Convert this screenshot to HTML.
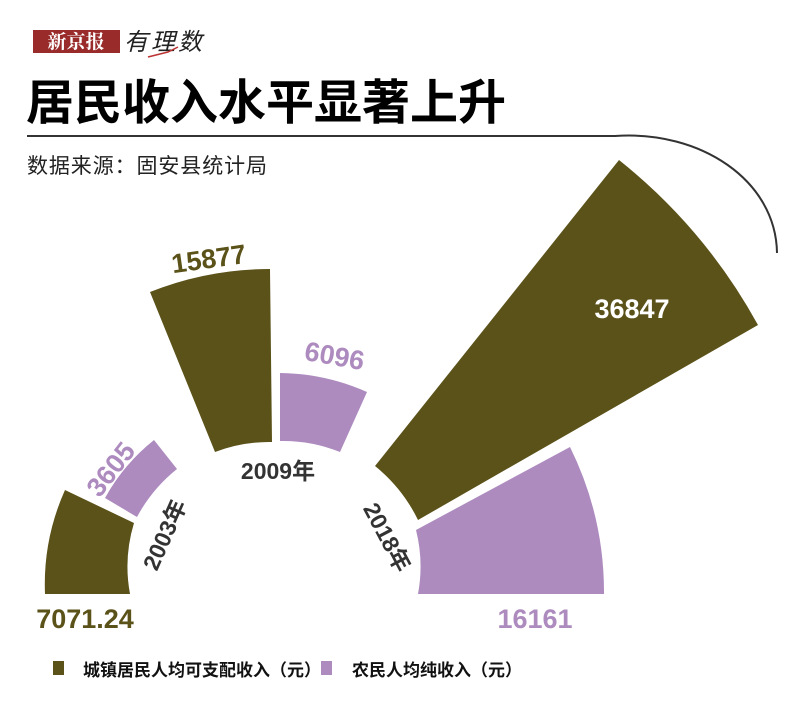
<!DOCTYPE html>
<html><head><meta charset="utf-8"><style>
html,body{margin:0;padding:0;background:#fff;width:800px;height:708px;overflow:hidden}
svg{display:block}
text{font-family:"Liberation Sans","Noto Sans CJK SC",sans-serif}
</style></head><body>
<svg width="800" height="708" viewBox="0 0 800 708">
<rect x="33" y="30" width="87" height="23" fill="#9a2b2b"/>
<text x="76" y="48" fill="#fff" font-size="19" font-weight="bold" text-anchor="middle" style="font-family:'Noto Serif CJK SC',serif">新京报</text>
<text x="124" y="50" fill="#222" font-size="24" font-style="italic" textLength="78" style="font-family:'Noto Sans CJK SC',sans-serif">有理数</text>
<path d="M148,57 L168,52 L178,47" stroke="#b33" stroke-width="1.5" fill="none"/>
<text x="26" y="119" font-size="48" font-weight="bold" fill="#000" style="font-family:'Noto Sans CJK SC',sans-serif">居民收入水平显著上升</text>
<path d="M27,136 L615,136 C700,130 776,180 777,253" stroke="#333" stroke-width="2" fill="none"/>
<text x="27" y="173" font-size="21" fill="#222" textLength="240" style="font-family:'Noto Sans CJK SC',sans-serif">数据来源：固安县统计局</text>

<g fill="#5b5219">
<path d="M45,594 A231,231 0 0 1 65,490 L134,523 A150,150 0 0 0 130,594 Z"/>
<path d="M150,292 A322,322 0 0 1 270,269 L272,442 A152,152 0 0 0 215,452 Z"/>
<path d="M375,466 L619,160 A550,550 0 0 1 758,325 L418,520 A158,158 0 0 0 375,466 Z"/>
</g>
<g fill="#ad8bbf">
<path d="M105,498 A194,194 0 0 1 154,440 L177,469 A156,156 0 0 0 137,517 Z"/>
<path d="M280,373 A220,220 0 0 1 367,392 L340,452 A152,152 0 0 0 280,441 Z"/>
<path d="M416,530 L570,447 A328,328 0 0 1 604,594 L418,594 A150,150 0 0 0 416,530 Z"/>
</g>

<g font-weight="bold" font-size="27">
<text x="85" y="628" fill="#5b5219" text-anchor="middle">7071.24</text>
<text x="535" y="628" fill="#ad8bbf" text-anchor="middle">16161</text>
<text x="632" y="318" fill="#fff" text-anchor="middle">36847</text>
<text x="0" y="0" fill="#5b5219" text-anchor="middle" transform="translate(210,268) rotate(-8)">15877</text>
<text x="0" y="0" fill="#ad8bbf" text-anchor="middle" transform="translate(333,365) rotate(10)">6096</text>
<text x="0" y="0" fill="#ad8bbf" text-anchor="middle" transform="translate(118,475) rotate(-52)">3605</text>
</g>
<g font-weight="bold" font-size="23" fill="#333">
<text x="278" y="479" text-anchor="middle">2009年</text>
<text x="0" y="0" text-anchor="middle" transform="translate(172,538) rotate(-66)">2003年</text>
<text x="0" y="0" text-anchor="middle" transform="translate(380,541) rotate(62)">2018年</text>
</g>

<rect x="53" y="661" width="11" height="14" fill="#5b5219"/>
<text x="83" y="676" font-size="17" font-weight="bold" fill="#111" style="font-family:'Noto Sans CJK SC',sans-serif">城镇居民人均可支配收入（元）</text>
<rect x="321" y="661" width="11" height="14" fill="#ad8bbf"/>
<text x="352" y="676" font-size="17" font-weight="bold" fill="#111" style="font-family:'Noto Sans CJK SC',sans-serif">农民人均纯收入（元）</text>
</svg>
</body></html>
